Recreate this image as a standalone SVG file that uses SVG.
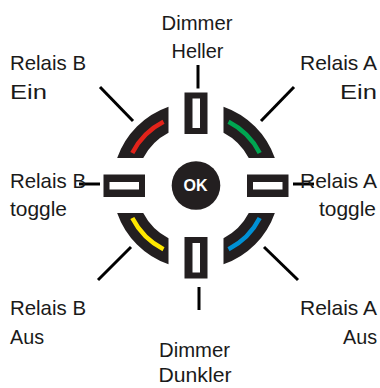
<svg xmlns="http://www.w3.org/2000/svg" xmlns:xlink="http://www.w3.org/1999/xlink" width="380" height="388" viewBox="0 0 380 388">
<style>
.lbl{font-family:"Liberation Sans Narrow","Arial Narrow","Liberation Sans",Arial,sans-serif;font-size:21px;fill:#1a1a1a}
.band{fill:#231f20}
.key{fill:#231f20}
.slot{fill:#ffffff}
.con{stroke:#000;stroke-width:3;fill:none}
.stripe{fill:none;stroke-width:4.5;stroke-linecap:butt}
.ok{font-family:"Liberation Sans",Arial,sans-serif;font-size:16px;font-weight:bold;fill:#fff}
</style>
<defs>
<path id="quad" d="M -27.5,-78.84 A 83.5 83.5 0 0 0 -78.84,-27.5 L -52.76,-27.5 A 59.5 59.5 0 0 1 -27.5,-52.76 Z"/>
<path id="arcq" d="M -32.5,-63.69 A 71.5 71.5 0 0 0 -63.69,-32.5"/>
</defs>
<rect width="380" height="388" fill="#fff"/>
<g id="connectors">
<line class="con" x1="198" y1="65" x2="198" y2="88.5"/>
<line class="con" x1="199" y1="287" x2="199" y2="310"/>
<line class="con" x1="100" y1="87" x2="133" y2="121"/>
<line class="con" x1="294" y1="87" x2="261" y2="121"/>
<line class="con" x1="131" y1="247" x2="98" y2="280"/>
<line class="con" x1="264" y1="247" x2="298" y2="280"/>
<line class="con" x1="79" y1="184" x2="100" y2="184"/>
<line class="con" x1="293" y1="184" x2="314" y2="184"/>
</g>
<g id="btn-b-ein" transform="translate(196,185.5)">
<use xlink:href="#quad" class="band"/>
<use xlink:href="#arcq" class="stripe" stroke="#e2231a"/>
</g>
<g id="btn-a-ein" transform="translate(196,185.5) scale(-1,1)">
<use xlink:href="#quad" class="band"/>
<use xlink:href="#arcq" class="stripe" stroke="#00a651"/>
</g>
<g id="btn-b-aus" transform="translate(196,185.5) scale(1,-1)">
<use xlink:href="#quad" class="band"/>
<use xlink:href="#arcq" class="stripe" stroke="#ffe800"/>
</g>
<g id="btn-a-aus" transform="translate(196,185.5) scale(-1,-1)">
<use xlink:href="#quad" class="band"/>
<use xlink:href="#arcq" class="stripe" stroke="#0091d5"/>
</g>
<g id="btn-dim-up">
<rect class="key" x="184.5" y="92.5" width="23" height="41.5"/>
<rect class="slot" x="192.5" y="98.5" width="7.5" height="29.5"/>
</g>
<g id="btn-dim-down">
<rect class="key" x="184.5" y="237" width="23" height="41.5"/>
<rect class="slot" x="192.5" y="243" width="7.5" height="29.5"/>
</g>
<g id="btn-b-toggle">
<rect class="key" x="103.5" y="174.5" width="41.5" height="22.5"/>
<rect class="slot" x="109.5" y="182" width="29.5" height="7.5"/>
</g>
<g id="btn-a-toggle">
<rect class="key" x="247" y="174.5" width="41.5" height="22.5"/>
<rect class="slot" x="253" y="182" width="29.5" height="7.5"/>
</g>
<g id="btn-ok">
<circle cx="196" cy="185.5" r="24.3" fill="#231f20"/>
<text class="ok" x="195.5" y="191.3" text-anchor="middle">OK</text>
</g>
<g id="lbl-dim-up">
<text class="lbl" x="161.5" y="29.5" textLength="71" lengthAdjust="spacingAndGlyphs">Dimmer</text>
<text class="lbl" x="171.5" y="57.5" textLength="52" lengthAdjust="spacingAndGlyphs">Heller</text>
</g>
<g id="lbl-b-ein">
<text class="lbl" x="10" y="69.5" textLength="76" lengthAdjust="spacingAndGlyphs">Relais B</text>
<text class="lbl" x="10" y="98.5" textLength="37" lengthAdjust="spacingAndGlyphs">Ein</text>
</g>
<g id="lbl-a-ein">
<text class="lbl" x="300" y="69.5" textLength="77" lengthAdjust="spacingAndGlyphs">Relais A</text>
<text class="lbl" x="340" y="98.5" textLength="37" lengthAdjust="spacingAndGlyphs">Ein</text>
</g>
<g id="lbl-b-toggle">
<text class="lbl" x="10" y="187.5" textLength="76" lengthAdjust="spacingAndGlyphs">Relais B</text>
<text class="lbl" x="10" y="215.5" textLength="57" lengthAdjust="spacingAndGlyphs">toggle</text>
</g>
<g id="lbl-a-toggle">
<text class="lbl" x="300" y="187.5" textLength="77" lengthAdjust="spacingAndGlyphs">Relais A</text>
<text class="lbl" x="319" y="215.5" textLength="57" lengthAdjust="spacingAndGlyphs">toggle</text>
</g>
<g id="lbl-b-aus">
<text class="lbl" x="10" y="314.5" textLength="76" lengthAdjust="spacingAndGlyphs">Relais B</text>
<text class="lbl" x="10" y="343.5" textLength="34" lengthAdjust="spacingAndGlyphs">Aus</text>
</g>
<g id="lbl-a-aus">
<text class="lbl" x="300" y="314.5" textLength="77" lengthAdjust="spacingAndGlyphs">Relais A</text>
<text class="lbl" x="343" y="343.5" textLength="34" lengthAdjust="spacingAndGlyphs">Aus</text>
</g>
<g id="lbl-dim-down">
<text class="lbl" x="159" y="357" textLength="71" lengthAdjust="spacingAndGlyphs">Dimmer</text>
<text class="lbl" x="158.5" y="382" textLength="73" lengthAdjust="spacingAndGlyphs">Dunkler</text>
</g>
</svg>
